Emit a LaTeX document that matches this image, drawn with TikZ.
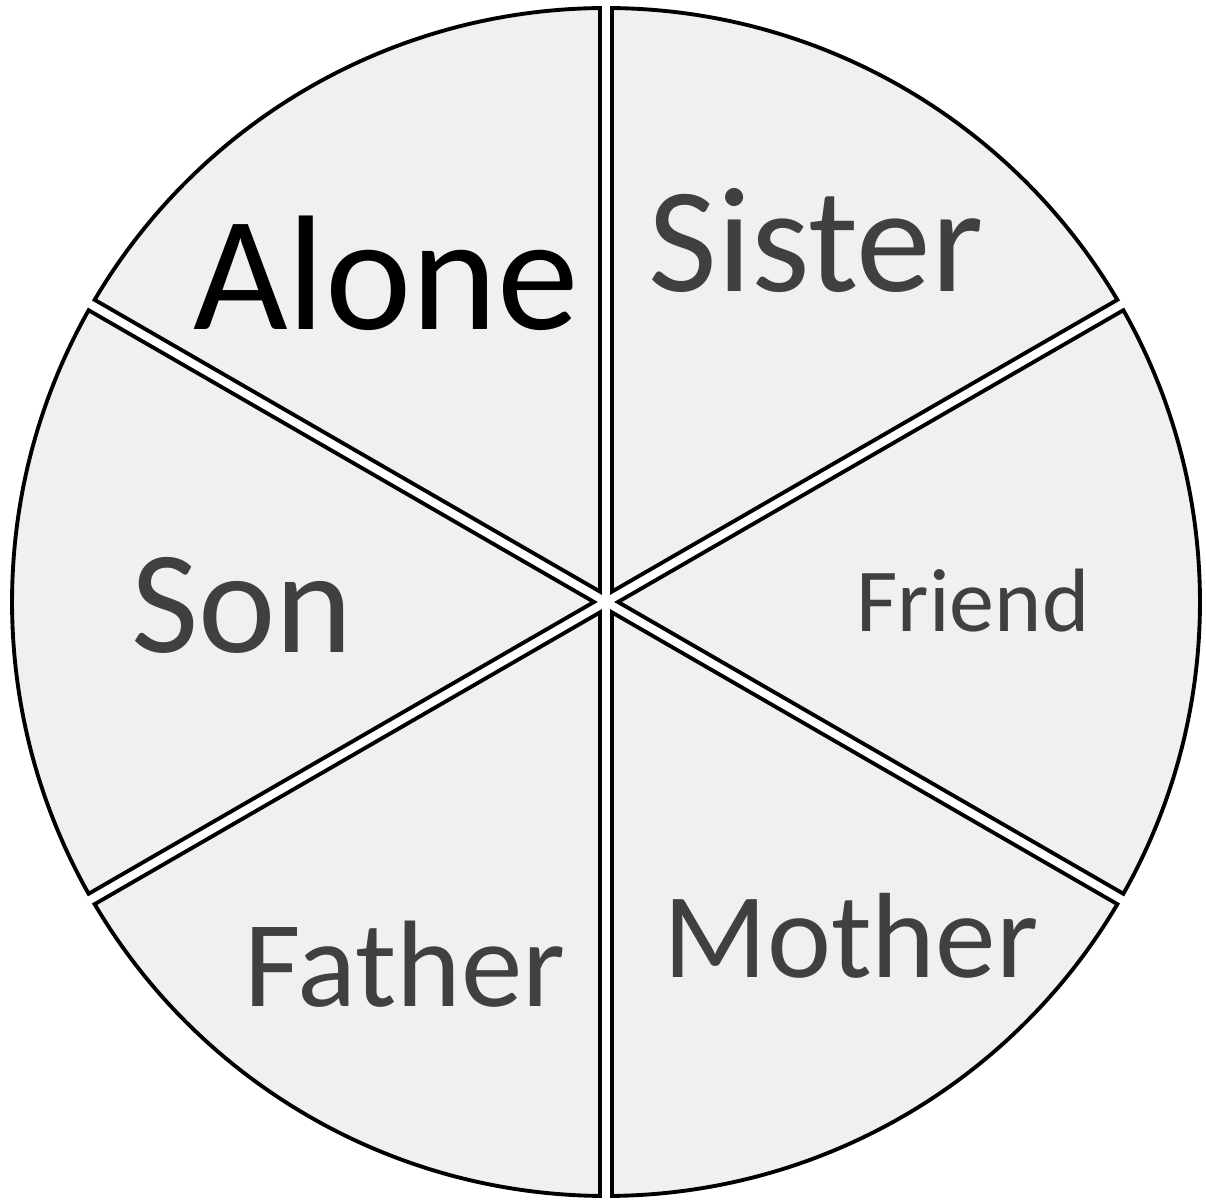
\documentclass[tikz,border=0pt]{standalone}
\usepackage{fontspec}
\setmainfont{Carlito}
\definecolor{wedgefill}{HTML}{F0F0F0}
\definecolor{labelgray}{HTML}{404040}
\begin{document}
\begin{tikzpicture}[x=0.01cm,y=0.01cm,
  wedge/.style={draw=black, line width=1.1pt, fill=wedgefill, line join=miter},
  lbl/.style={anchor=base, text=labelgray, inner sep=0pt}]
\fill[white] (0,0) rectangle (1206,1200);
\useasboundingbox (0,0) rectangle (1206,1200);
\coordinate (c) at (606,598);
\foreach \a in {30,90,150,210,270,330} {
  \pgfmathsetmacro\bis{\a+30}
  \pgfmathsetmacro\sa{\a+0.58}
  \pgfmathsetmacro\ea{\a+60-0.58}
  \draw[wedge, shift={(c)}] (\bis:12) -- (\sa:594) arc[start angle=\sa, end angle=\ea, radius=594] -- cycle;
}
\node[lbl, text=black, font=\fontsize{46.5}{50}\selectfont] (alone) at (386,870) {Alone};
\node[lbl, font=\fontsize{42.6}{46}\selectfont] (sister) at (816,908) {Sister};
\node[lbl, font=\fontsize{41.7}{45}\selectfont] (son) at (242,547) {Son};
\node[lbl, font=\fontsize{25.6}{28}\selectfont] (friend) at (973,568) {Friend};
\node[lbl, font=\fontsize{35}{38}\selectfont] (father) at (405,193) {Father};
\node[lbl, font=\fontsize{34.5}{37}\selectfont] (mother) at (851,222) {Mother};
\end{tikzpicture}
\end{document}
